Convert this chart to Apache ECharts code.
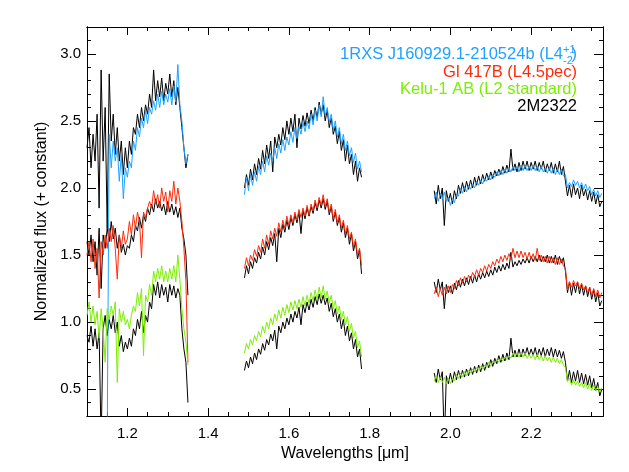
<!DOCTYPE html>
<html>
<head>
<meta charset="utf-8">
<script src="https://cdn.jsdelivr.net/npm/echarts@6/dist/echarts.min.js"></script>
<style>html,body{margin:0;padding:0;background:#fff}#c{width:629px;height:472px}</style>
</head>
<body>
<div id="c"></div>
<script>
// ---- axis ranges & tick labels ----
const X_MIN = 1.1, X_MAX = 2.378, Y_MIN = 0.3, Y_MAX = 3.2;
const xMajorTicks = [1.2, 1.4, 1.6, 1.8, 2.0, 2.2];
const yMajorTicks = [0.5, 1.0, 1.5, 2.0, 2.5, 3.0];
const STEP = 0.005; // sampling step of the spectra (µm)
const bandStart = { J: 1.10, Jblue: 1.15, H: 1.49, K: 1.96 };

// ---- series names / colours ----
const names = ['1RXS J160929.1-210524b', 'Gl 417B (L4.5pec)', 'Kelu-1 AB (L2 standard)', '2M2322'];
const colors = { blue: '#1EA2FF', red: '#FF2A0A', green: '#7CEE00', black: '#000000' };

// ---- J band ----
const blackUpperJ = [2.30,2.45,2.15,2.40,2.20,2.55,1.85,2.88,2.20,2.60,1.70,2.85,2.35,2.55,2.25,2.45,2.20,2.35,2.10,2.30,2.15,2.35,2.25,2.45,2.40,2.55,2.45,2.60,2.50,2.62,2.55,2.70,2.60,2.88,2.65,2.80,2.68,2.82,2.65,2.78,2.70,2.85,2.68,2.80,2.62,2.75,2.60,2.45,2.30,2.15,2.25];
const blueJ = [0.10,2.40,2.15,2.35,2.20,2.30,2.05,2.25,1.92,2.15,2.08,2.20,2.15,2.35,2.28,2.45,2.38,2.52,2.45,2.58,2.48,2.60,2.55,2.65,2.58,2.70,2.60,2.72,2.62,2.70,2.64,2.74,2.62,2.76,2.64,2.92,2.62,2.50,2.30,2.18,2.25];
const redJ = [1.50,1.60,1.45,1.62,1.40,1.55,1.18,1.60,1.50,1.65,1.55,1.70,1.60,1.72,1.55,1.32,1.65,1.55,1.68,1.58,1.62,1.75,1.65,1.80,1.70,1.82,1.75,1.48,1.82,1.78,1.85,1.90,1.85,1.98,1.88,1.95,1.85,2.00,1.90,1.97,1.82,1.98,1.90,2.05,1.88,2.00,1.90,1.75,1.55,1.30,0.70];
const blackMidJ = [1.60,1.50,1.65,1.45,1.60,1.35,1.70,1.25,1.65,1.55,1.70,1.60,1.75,1.62,1.70,1.55,1.65,1.52,1.58,1.50,1.57,1.55,1.65,1.60,1.72,1.68,1.78,1.70,1.80,1.75,1.85,1.80,1.88,1.82,1.92,1.85,1.90,1.83,1.88,1.80,1.90,1.82,1.88,1.80,1.86,1.78,1.85,1.70,1.62,1.50,1.20];
const greenJ = [1.05,1.15,1.00,1.12,0.98,1.08,0.88,1.10,0.95,0.70,1.10,1.02,1.12,1.05,1.15,0.55,1.10,1.00,1.08,0.98,1.02,0.95,1.05,1.12,1.08,1.22,1.12,1.25,0.75,1.20,1.15,1.28,1.20,1.38,1.30,1.40,1.32,1.42,1.30,1.38,1.30,1.40,1.32,1.42,1.30,1.50,1.32,1.10,0.95,0.85,0.68];
const blackLowJ = [0.90,0.85,0.97,0.82,0.95,0.80,0.92,0.10,0.95,1.05,0.90,1.02,0.95,1.05,0.92,1.00,0.82,0.90,0.78,0.85,0.80,0.88,0.82,0.95,0.90,1.02,0.95,1.08,0.92,1.05,1.00,1.15,1.10,1.28,1.20,1.30,1.18,1.28,1.20,1.26,1.15,1.28,1.20,1.27,1.18,1.25,1.20,0.95,0.80,0.70,0.40];

// ---- H band ----
const blueH = [1.95,2.08,1.98,2.10,2.02,2.12,2.05,2.16,2.10,2.20,2.12,2.24,2.17,2.26,2.20,2.30,2.22,2.33,2.26,2.36,2.28,2.38,2.32,2.42,2.34,2.45,2.37,2.46,2.40,2.49,2.42,2.50,2.44,2.55,2.47,2.58,2.50,2.62,2.53,2.68,2.54,2.60,2.49,2.55,2.43,2.50,2.38,2.45,2.33,2.40,2.28,2.35,2.24,2.30,2.19,2.26,2.14,2.20,2.12];
const blackUpperH = [2.00,2.10,2.02,2.14,2.06,2.18,2.10,2.22,2.14,2.28,2.18,2.32,2.22,2.35,2.12,2.38,2.30,2.40,2.32,2.45,2.36,2.50,2.40,2.52,2.42,2.55,2.30,2.52,2.44,2.54,2.46,2.56,2.48,2.58,2.50,2.60,2.52,2.64,2.55,2.62,2.50,2.58,2.45,2.52,2.40,2.46,2.33,2.42,2.28,2.36,2.20,2.32,2.18,2.25,2.10,2.20,2.05,2.15,2.08];
const redH = [1.40,1.48,1.42,1.50,1.46,1.54,1.49,1.57,1.52,1.62,1.55,1.65,1.58,1.68,1.62,1.70,1.64,1.74,1.67,1.76,1.70,1.79,1.72,1.80,1.74,1.82,1.76,1.84,1.78,1.85,1.79,1.87,1.80,1.88,1.83,1.91,1.85,1.93,1.87,1.95,1.86,1.92,1.82,1.88,1.77,1.84,1.74,1.80,1.70,1.76,1.66,1.72,1.62,1.67,1.56,1.62,1.50,1.55,1.42];
const blackMidH = [1.33,1.42,1.36,1.45,1.40,1.48,1.44,1.52,1.47,1.56,1.50,1.60,1.54,1.63,1.57,1.66,1.45,1.70,1.63,1.73,1.67,1.76,1.69,1.78,1.72,1.80,1.74,1.82,1.66,1.83,1.77,1.85,1.79,1.86,1.81,1.89,1.83,1.91,1.85,1.92,1.84,1.90,1.80,1.86,1.75,1.82,1.72,1.78,1.67,1.74,1.63,1.70,1.58,1.66,1.53,1.60,1.47,1.54,1.36];
const greenH = [0.77,0.84,0.80,0.87,0.83,0.90,0.86,0.93,0.89,0.97,0.92,1.00,0.95,1.03,0.98,1.06,1.01,1.09,1.03,1.11,1.05,1.13,1.07,1.15,1.09,1.16,1.10,1.17,1.11,1.19,1.12,1.20,1.14,1.22,1.16,1.24,1.17,1.26,1.18,1.27,1.17,1.23,1.14,1.20,1.10,1.16,1.06,1.12,1.02,1.08,0.98,1.04,0.93,0.99,0.88,0.93,0.81,0.86,0.74];
const blackLowH = [0.64,0.71,0.66,0.74,0.69,0.77,0.72,0.80,0.76,0.84,0.79,0.87,0.83,0.91,0.86,0.94,0.80,0.97,0.92,1.00,0.95,1.03,0.98,1.06,1.00,1.08,1.03,1.11,0.98,1.13,1.07,1.15,1.09,1.17,1.11,1.19,1.13,1.21,1.14,1.20,1.13,1.18,1.08,1.14,1.04,1.10,1.00,1.06,0.95,1.02,0.90,0.97,0.86,0.92,0.80,0.87,0.74,0.80,0.65];

// ---- K band ----
const blueK = [1.92,1.97,1.90,1.96,1.92,1.97,1.90,1.93,1.87,1.92,1.89,1.95,1.94,2.00,1.96,2.01,1.97,2.02,1.99,2.03,2.00,2.05,2.02,2.06,2.03,2.07,2.05,2.09,2.06,2.10,2.08,2.12,2.09,2.13,2.10,2.14,2.11,2.15,2.12,2.16,2.13,2.16,2.12,2.17,2.13,2.17,2.13,2.16,2.13,2.17,2.13,2.16,2.12,2.16,2.12,2.15,2.11,2.15,2.11,2.15,2.10,2.14,2.10,2.14,2.09,2.10,2.00,2.04,2.01,2.06,2.02,2.05,2.00,2.04,1.99,2.03,1.98,2.01,1.95,1.99,1.94,1.98,1.93,1.96];
const blackUpperK = [1.98,1.88,2.02,1.92,2.00,1.72,1.98,1.90,1.96,1.88,1.98,1.92,2.02,1.96,2.04,1.97,2.05,1.99,2.06,2.00,2.08,2.02,2.09,2.03,2.10,2.05,2.11,2.06,2.12,2.07,2.13,2.09,2.14,2.10,2.16,2.11,2.17,2.12,2.29,2.13,2.18,2.12,2.19,2.13,2.20,2.14,2.20,2.13,2.19,2.14,2.20,2.13,2.19,2.14,2.20,2.12,2.18,2.13,2.19,2.11,2.18,2.12,2.20,2.10,2.16,2.05,1.94,2.02,1.93,2.03,1.95,2.00,1.92,2.02,1.94,1.99,1.91,1.98,1.90,1.97,1.88,1.95,1.86,1.90];
const redK = [1.21,1.26,1.19,1.25,1.20,1.26,1.21,1.27,1.22,1.28,1.25,1.31,1.27,1.33,1.29,1.34,1.30,1.35,1.32,1.37,1.34,1.39,1.35,1.40,1.37,1.42,1.38,1.43,1.40,1.45,1.42,1.47,1.44,1.49,1.45,1.50,1.46,1.51,1.47,1.55,1.48,1.53,1.48,1.53,1.48,1.52,1.47,1.52,1.47,1.51,1.46,1.55,1.46,1.50,1.45,1.49,1.44,1.49,1.44,1.48,1.43,1.48,1.43,1.47,1.42,1.40,1.24,1.30,1.26,1.31,1.27,1.30,1.25,1.29,1.24,1.27,1.22,1.26,1.20,1.25,1.19,1.24,1.18,1.22];
const blackMidK = [1.30,1.22,1.32,1.24,1.30,1.10,1.28,1.22,1.27,1.21,1.29,1.24,1.31,1.26,1.32,1.27,1.33,1.28,1.34,1.29,1.35,1.30,1.36,1.32,1.37,1.33,1.38,1.34,1.39,1.35,1.41,1.37,1.42,1.38,1.43,1.39,1.44,1.40,1.52,1.41,1.45,1.42,1.46,1.43,1.47,1.44,1.48,1.44,1.49,1.45,1.49,1.45,1.50,1.45,1.49,1.45,1.50,1.44,1.49,1.44,1.50,1.43,1.49,1.44,1.48,1.38,1.22,1.30,1.20,1.29,1.22,1.30,1.21,1.28,1.20,1.27,1.19,1.26,1.17,1.24,1.15,1.22,1.12,1.16];
const greenK = [0.56,0.60,0.55,0.59,0.55,0.59,0.54,0.58,0.54,0.58,0.56,0.61,0.58,0.62,0.59,0.63,0.60,0.64,0.62,0.65,0.63,0.66,0.64,0.67,0.65,0.68,0.66,0.70,0.67,0.71,0.69,0.72,0.70,0.73,0.71,0.74,0.72,0.75,0.73,0.77,0.74,0.77,0.74,0.77,0.74,0.77,0.73,0.76,0.73,0.76,0.72,0.76,0.72,0.75,0.71,0.75,0.71,0.74,0.70,0.74,0.70,0.73,0.69,0.72,0.68,0.66,0.56,0.58,0.53,0.57,0.53,0.56,0.52,0.55,0.51,0.55,0.50,0.54,0.49,0.53,0.49,0.52,0.48,0.51];
const blackLowK = [0.62,0.55,0.65,0.57,0.63,0.10,0.60,0.54,0.62,0.55,0.63,0.57,0.64,0.58,0.64,0.59,0.65,0.60,0.66,0.61,0.67,0.62,0.68,0.63,0.69,0.64,0.70,0.66,0.72,0.67,0.73,0.69,0.75,0.70,0.76,0.71,0.77,0.72,0.88,0.74,0.79,0.74,0.80,0.74,0.80,0.75,0.81,0.75,0.80,0.75,0.81,0.74,0.80,0.75,0.81,0.74,0.80,0.75,0.81,0.74,0.80,0.74,0.79,0.73,0.78,0.70,0.56,0.64,0.55,0.63,0.56,0.64,0.55,0.62,0.54,0.61,0.53,0.60,0.51,0.58,0.49,0.55,0.45,0.50];

// ---- build ----
function pts(start, vals) {
  return vals.map((v, i) => [+(start + i * STEP).toFixed(4), v]);
}
function spec(start, vals, color, z) {
  return { type: 'line', data: pts(start, vals), showSymbol: false, symbol: 'none', silent: true,
    lineStyle: { color: color, width: 1 }, itemStyle: { color: color }, z: z, clip: true, animation: false };
}
const series = [
  spec(bandStart.J, blackUpperJ, colors.black, 2), spec(bandStart.H, blackUpperH, colors.black, 2), spec(bandStart.K, blackUpperK, colors.black, 2),
  spec(bandStart.J, blackMidJ, colors.black, 2), spec(bandStart.H, blackMidH, colors.black, 2), spec(bandStart.K, blackMidK, colors.black, 2),
  spec(bandStart.J, blackLowJ, colors.black, 2), spec(bandStart.H, blackLowH, colors.black, 2), spec(bandStart.K, blackLowK, colors.black, 2),
  spec(bandStart.Jblue, blueJ, colors.blue, 3), spec(bandStart.H, blueH, colors.blue, 3), spec(bandStart.K, blueK, colors.blue, 3),
  spec(bandStart.J, redJ, colors.red, 3), spec(bandStart.H, redH, colors.red, 3), spec(bandStart.K, redK, colors.red, 3),
  spec(bandStart.J, greenJ, colors.green, 3), spec(bandStart.H, greenH, colors.green, 3), spec(bandStart.K, greenK, colors.green, 3)
];

const FONT = '"Liberation Sans", Arial, Helvetica, sans-serif';
const axisLine = { show: true, onZero: false, lineStyle: { color: '#000', width: 1 } };
function xAx(position, major, labels, name) {
  const a = { type: 'value', position: position, min: X_MIN, max: X_MAX, splitLine: { show: false }, axisLine: axisLine };
  if (major) {
    a.axisTick = { show: true, inside: true, length: 8, customValues: xMajorTicks, lineStyle: { color: '#000' } };
    a.axisLabel = { show: labels, customValues: xMajorTicks, margin: 10, color: '#000', fontSize: 15, fontFamily: FONT,
      formatter: v => v.toFixed(1) };
  } else {
    a.interval = 0.05;
    a.axisTick = { show: true, inside: true, length: 4, lineStyle: { color: '#000' } };
    a.axisLabel = { show: false };
  }
  if (name) {
    a.name = name; a.nameLocation = 'middle'; a.nameGap = 27;
    a.nameTextStyle = { color: '#000', fontSize: 16, fontFamily: FONT };
  }
  return a;
}
function yAx(position, major, labels, name) {
  const a = { type: 'value', position: position, min: Y_MIN, max: Y_MAX, splitLine: { show: false }, axisLine: axisLine };
  if (major) {
    a.axisTick = { show: true, inside: true, length: 9, customValues: yMajorTicks, lineStyle: { color: '#000' } };
    a.axisLabel = { show: labels, customValues: yMajorTicks, margin: 6, color: '#000', fontSize: 15, fontFamily: FONT,
      formatter: v => v.toFixed(1) };
  } else {
    a.interval = 0.1;
    a.axisTick = { show: true, inside: true, length: 4, lineStyle: { color: '#000' } };
    a.axisLabel = { show: false };
  }
  if (name) {
    a.name = name; a.nameLocation = 'middle'; a.nameGap = 36; a.nameRotate = 90;
    a.nameTextStyle = { color: '#000', fontSize: 16, fontFamily: FONT };
  }
  return a;
}

const LX = 577, LY = [54, 72, 89, 106], LF = '16.5px ' + FONT;
const option = {
  animation: false,
  backgroundColor: '#fff',
  grid: { left: 87, right: 26, top: 27, bottom: 56, containLabel: false },
  xAxis: [xAx('bottom', true, true, 'Wavelengths [\u03bcm]'), xAx('bottom', false, false), xAx('top', true, false), xAx('top', false, false)],
  yAxis: [yAx('left', true, true, 'Normalized flux (+ constant)'), yAx('left', false, false), yAx('right', true, false), yAx('right', false, false)],
  series: series,
  graphic: [
    { type: 'text', x: LX - 14, y: LY[0], style: { text: '1RXS J160929.1-210524b (L4', font: LF, fill: colors.blue, textAlign: 'right', textVerticalAlign: 'middle' } },
    { type: 'text', x: LX - 14, y: LY[0] - 4, style: { text: '+1', font: '11px ' + FONT, fill: colors.blue, textAlign: 'left', textVerticalAlign: 'middle' } },
    { type: 'text', x: LX - 14, y: LY[0] + 7, style: { text: '-2', font: '11px ' + FONT, fill: colors.blue, textAlign: 'left', textVerticalAlign: 'middle' } },
    { type: 'text', x: LX, y: LY[0], style: { text: ')', font: LF, fill: colors.blue, textAlign: 'right', textVerticalAlign: 'middle' } },
    { type: 'text', x: LX, y: LY[1], style: { text: names[1], font: LF, fill: colors.red, textAlign: 'right', textVerticalAlign: 'middle' } },
    { type: 'text', x: LX, y: LY[2], style: { text: names[2], font: LF, fill: colors.green, textAlign: 'right', textVerticalAlign: 'middle' } },
    { type: 'text', x: LX, y: LY[3], style: { text: names[3], font: LF, fill: colors.black, textAlign: 'right', textVerticalAlign: 'middle' } }
  ]
};
// all series on the primary axes
option.series.forEach(s => { s.xAxisIndex = 0; s.yAxisIndex = 0; });
const chart = echarts.init(document.getElementById('c'), null, { renderer: 'canvas' });
chart.setOption(option);
</script>
</body>
</html>
